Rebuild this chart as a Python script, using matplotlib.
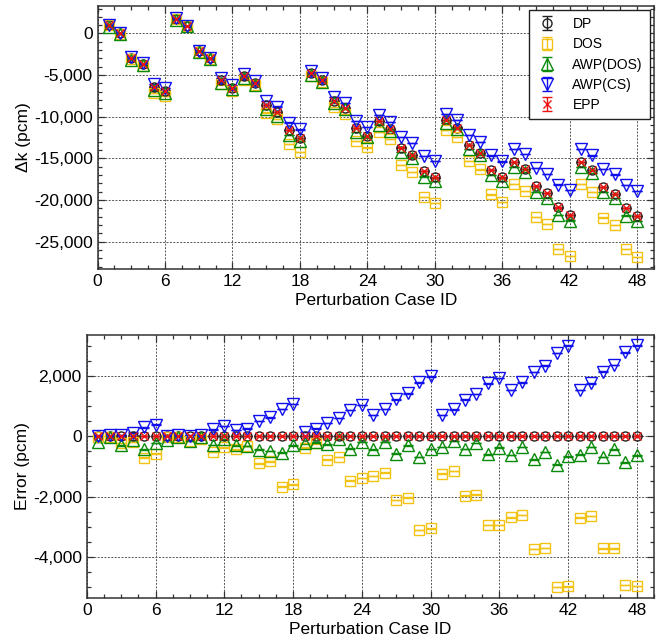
import numpy as np
import matplotlib
matplotlib.use("Agg")
import matplotlib.pyplot as plt
from matplotlib.ticker import MultipleLocator, FuncFormatter

plt.rcParams['font.family'] = ['Liberation Sans', 'DejaVu Sans']

# Perturbation cases 1..48
case_id = np.arange(1, 49)

# Reference (DP) eigenvalue change in pcm
dk_dp = np.array([
    1000, 0, -2900, -3700, -6400, -6900, 1800, 900, -2100, -3000,
    -5600, -6500, -5100, -5900, -8600, -9400, -11600, -12600, -4700, -5600,
    -8100, -9000, -11400, -12300, -10500, -11500, -13700, -14600, -16500, -17300,
    -10400, -11300, -13400, -14400, -16400, -17300, -15400, -16300, -18300, -19200,
    -20900, -21800, -15400, -16400, -18400, -19300, -21000, -21900,
])

# Deviation of each method from DP, pcm
err_dos = np.array([
    -30, -20, -220, -190, -710, -575, -20, -20, -150, -80,
    -520, -375, -440, -330, -900, -830, -1670, -1600, -380, -240,
    -780, -690, -1470, -1390, -1320, -1210, -2110, -2040, -3110, -3050,
    -1240, -1150, -1970, -1940, -2940, -2940, -2690, -2610, -3740, -3700,
    -4990, -4970, -2700, -2640, -3710, -3710, -4930, -4960,
])
err_awp_dos = np.array([
    -190, -40, -300, -130, -440, -230, -130, -20, -150, -40,
    -290, -110, -300, -330, -450, -490, -550, -300, -240, -200,
    -270, -100, -410, -190, -440, -190, -580, -300, -690, -430,
    -360, -160, -430, -220, -600, -380, -630, -360, -770, -520,
    -940, -670, -610, -360, -690, -440, -870, -640,
])
err_awp_cs = np.array([
    20, 40, 40, 120, 290, 380, 20, 40, 20, 50,
    230, 340, 200, 250, 500, 620, 900, 1070, 140, 250,
    440, 600, 870, 1030, 700, 900, 1220, 1420, 1780, 1980,
    700, 890, 1210, 1390, 1750, 1920, 1530, 1780, 2120, 2330,
    2750, 3000, 1530, 1750, 2140, 2360, 2780, 3010,
])
err_dp = np.zeros(48)
err_epp = np.zeros(48)

sigma = 10  # statistical uncertainty, pcm

methods = ['DP', 'DOS', 'AWP(DOS)', 'AWP(CS)', 'EPP']
errors = [err_dp, err_dos, err_awp_dos, err_awp_cs, err_epp]
styles = {
    'DP':       dict(marker='o', color='#222222', ms=6.5),
    'DOS':      dict(marker='s', color='#f2c314', ms=7.2),
    'AWP(DOS)': dict(marker='^', color='#0a8a0a', ms=8),
    'AWP(CS)':  dict(marker='v', color='#1010ee', ms=8),
    'EPP':      dict(marker='x', color='#ee1111', ms=6),
}


def fmt_thousands(v, pos):
    return f"{int(round(v)):,}"


def style_axes(ax, ymajor, yminor):
    ax.xaxis.set_major_locator(MultipleLocator(6))
    ax.xaxis.set_minor_locator(MultipleLocator(1.5))
    ax.yaxis.set_major_locator(MultipleLocator(ymajor))
    ax.yaxis.set_minor_locator(MultipleLocator(yminor))
    ax.yaxis.set_major_formatter(FuncFormatter(fmt_thousands))
    ax.tick_params(which='both', direction='in', top=True, right=True,
                   labelsize=12.5, color='#333333', width=0.9)
    ax.tick_params(which='major', length=5)
    ax.tick_params(which='minor', length=3)
    ax.grid(True, which='major', color='#555555', linestyle=(0, (2, 1.5)), linewidth=0.7)
    ax.set_axisbelow(True)
    for sp in ax.spines.values():
        sp.set_color('#333333')
        sp.set_linewidth(1.1)
    ax.set_xlim(0, 49.5)
    ax.set_xlabel('Perturbation Case ID', fontsize=12.5, labelpad=3)


def draw_series(ax, values):
    for name, y in zip(methods, values):
        st = styles[name]
        ax.errorbar(case_id, y, yerr=sigma, fmt=st['marker'], ms=st['ms'],
                    mfc='none', mec=st['color'], mew=1.0, ecolor=st['color'],
                    elinewidth=1.0, capsize=3.5, capthick=1.0, label=name)


fig = plt.figure(figsize=(6.59, 6.41), dpi=100)
ax1 = fig.add_axes([0.148, 0.5803, 0.8445, 0.4103])
ax2 = fig.add_axes([0.1316, 0.0675, 0.861, 0.4099])

# Top: Δk of every method (DP plus its deviation)
draw_series(ax1, [dk_dp + e for e in errors])
style_axes(ax1, 5000, 1000)
ax1.set_ylim(-28300, 3300)
ax1.set_ylabel('Δk (pcm)', fontsize=12.5, labelpad=2)
leg = ax1.legend(loc='upper right', fontsize=10, frameon=True, fancybox=False,
                 edgecolor='#222222', borderaxespad=0.3, labelspacing=0.45,
                 handlelength=1.6, handletextpad=1.0, borderpad=0.5)
leg.get_frame().set_linewidth(1.0)
leg.get_frame().set_alpha(1)

# Bottom: error relative to DP
draw_series(ax2, errors)
style_axes(ax2, 2000, 500)
ax2.set_ylim(-5350, 3350)
ax2.set_ylabel('Error (pcm)', fontsize=12.5, labelpad=2)

fig.savefig('out.png', dpi=100)
